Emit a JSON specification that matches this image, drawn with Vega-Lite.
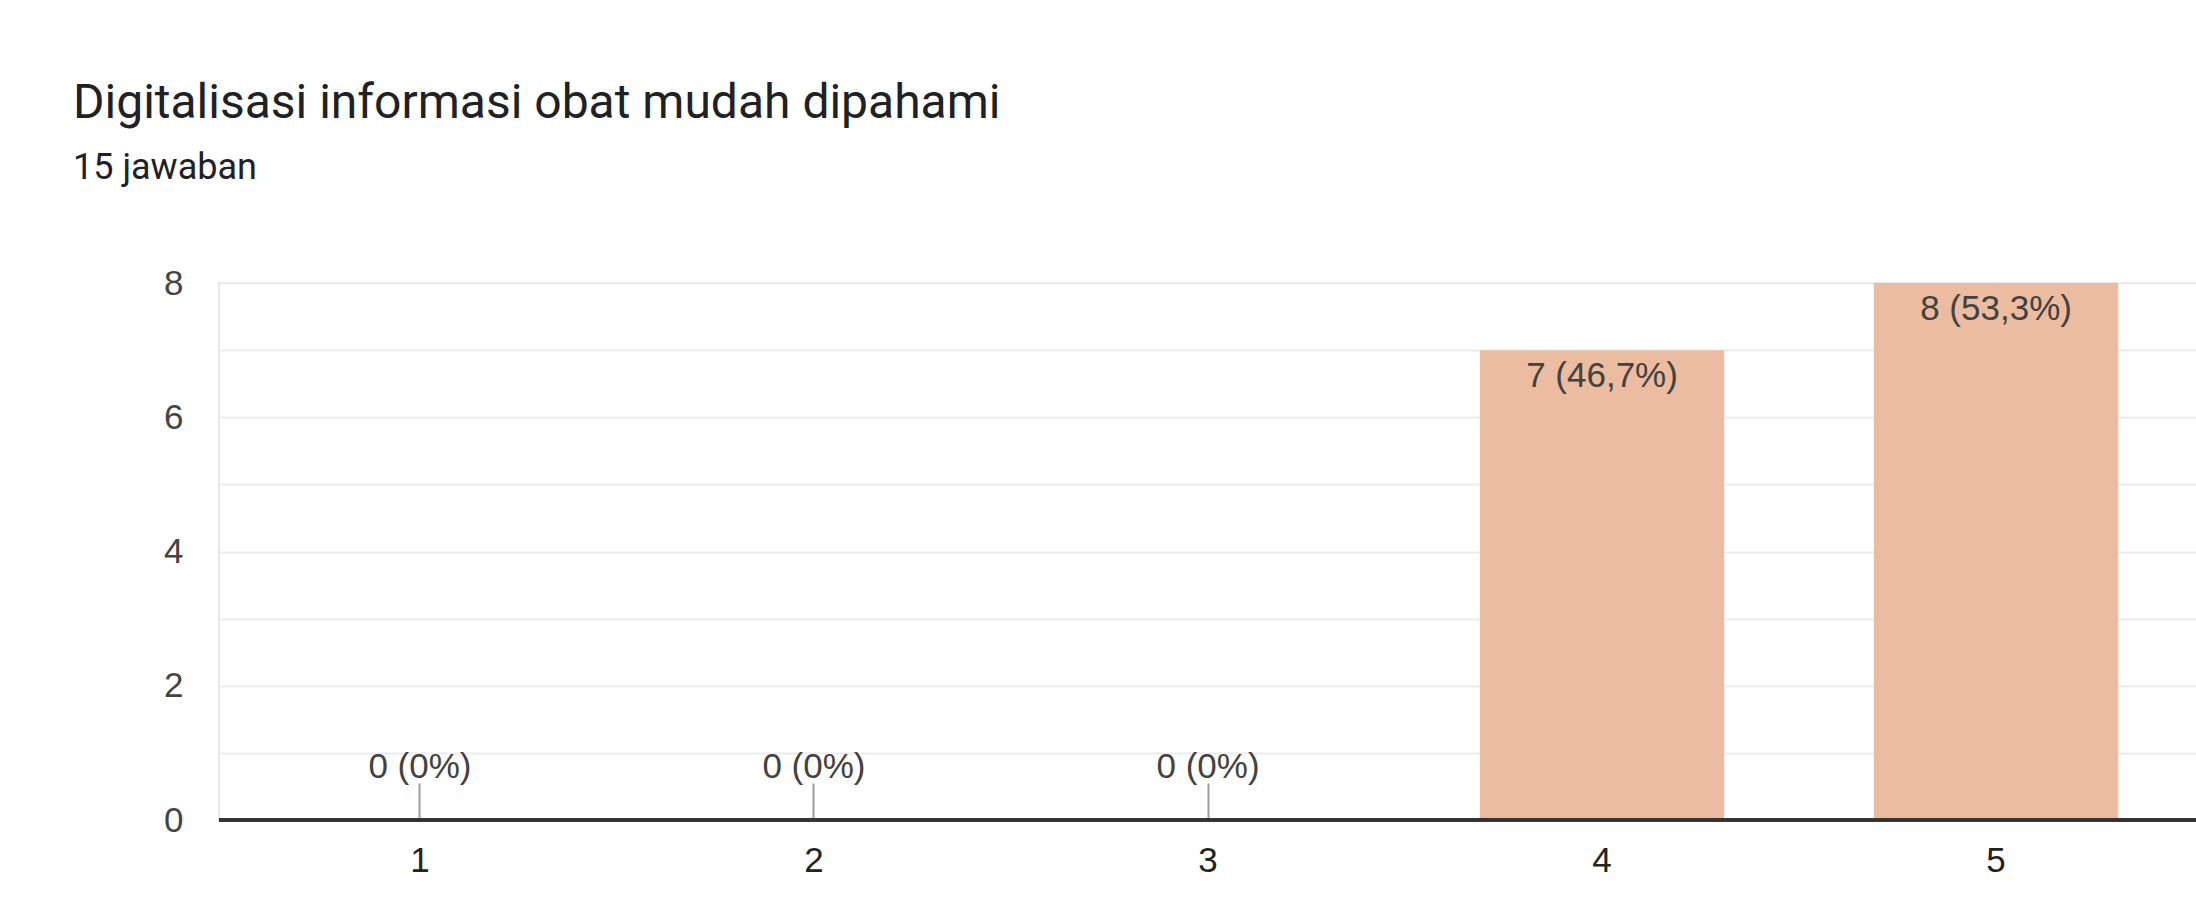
{
  "$schema": "https://vega.github.io/schema/vega-lite/v6.json",
  "width": 1978,
  "height": 537,
  "autosize": "none",
  "padding": {"left": 219, "top": 283, "right": 0, "bottom": 81},
  "background": "white",
  "config": {"view": {"stroke": "#e8e8e8", "strokeWidth": 2}},
  "title": {
    "text": "Digitalisasi informasi obat mudah dipahami",
    "subtitle": "15 jawaban",
    "anchor": "start",
    "frame": "group",
    "dx": -146,
    "offset": 80,
    "font": "Roboto",
    "fontSize": 48,
    "fontWeight": 400,
    "color": "#202124",
    "subtitleFont": "Roboto",
    "subtitleFontSize": 36,
    "subtitleColor": "#202124",
    "subtitlePadding": 23
  },
  "data": {
    "values": [
      {"option": "1", "count": 0, "label": "0 (0%)"},
      {"option": "2", "count": 0, "label": "0 (0%)"},
      {"option": "3", "count": 0, "label": "0 (0%)"},
      {"option": "4", "count": 7, "label": "7 (46,7%)"},
      {"option": "5", "count": 8, "label": "8 (53,3%)"}
    ]
  },
  "encoding": {
    "x": {
      "field": "option",
      "type": "ordinal",
      "scale": {"paddingInner": 0.38, "paddingOuter": 0.2},
      "axis": {
        "title": null,
        "domain": false,
        "grid": false,
        "tickSize": -37,
        "tickColor": "#9e9e9e",
        "tickWidth": 2,
        "labelAngle": 0,
        "labelFont": "Liberation Sans",
        "labelFontSize": 35,
        "labelColor": "#222222",
        "labelPadding": 60,
        "zindex": 0
      }
    },
    "y": {
      "field": "count",
      "type": "quantitative",
      "scale": {"domain": [0, 8], "nice": false},
      "axis": {
        "title": null,
        "values": [0, 1, 2, 3, 4, 5, 6, 7, 8],
        "labelExpr": "datum.value % 2 === 0 ? datum.label : ''",
        "grid": true,
        "gridColor": "#ececec",
        "gridWidth": 2,
        "domain": false,
        "ticks": false,
        "labelFont": "Liberation Sans",
        "labelFontSize": 35,
        "labelColor": "#444444",
        "labelPadding": 36
      }
    }
  },
  "layer": [
    {"mark": {"type": "bar", "color": "#ebbca0"}},
    {
      "transform": [{"filter": "datum.count > 0"}],
      "mark": {"type": "text", "baseline": "alphabetic", "dy": 37, "font": "Liberation Sans", "fontSize": 35, "color": "#424242"},
      "encoding": {"text": {"field": "label"}}
    },
    {
      "transform": [{"filter": "datum.count == 0"}],
      "mark": {"type": "text", "baseline": "alphabetic", "dy": -42, "font": "Liberation Sans", "fontSize": 35, "color": "#424242"},
      "encoding": {"text": {"field": "label"}}
    },
    {
      "mark": {"type": "rule", "color": "#333333", "strokeWidth": 3},
      "encoding": {"y": {"datum": 0}, "x": null}
    }
  ]
}
